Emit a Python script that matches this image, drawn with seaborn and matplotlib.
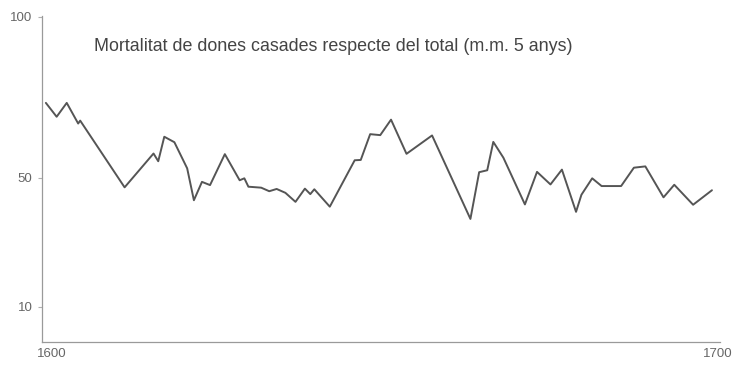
import pandas as pd
import matplotlib
matplotlib.use('Agg')
import matplotlib.pyplot as plt
import matplotlib.transforms as mtransforms
import seaborn as sns

# Values (year, % of deaths that are married women, 5-yr moving avg)
years = [1600.1, 1601.7, 1603.2, 1604.9, 1605.2, 1611.8, 1616.1, 1616.8, 1617.7, 1619.2,
         1621.1, 1622.1, 1623.3, 1624.5, 1626.7, 1628.9, 1629.6, 1630.2, 1632.1, 1633.3,
         1634.4, 1635.7, 1637.2, 1638.6, 1639.4, 1640.0, 1642.3, 1646.0, 1646.9, 1648.3,
         1649.8, 1651.4, 1653.7, 1657.5, 1663.2, 1664.5, 1665.7, 1666.6, 1668.1, 1671.3,
         1673.1, 1675.1, 1676.8, 1678.9, 1679.7, 1681.3, 1682.7, 1685.6, 1687.5, 1689.2,
         1691.9, 1693.5, 1696.3, 1699.1]
values = [73.3, 69.0, 73.3, 66.9, 67.8, 47.1, 57.6, 55.2, 62.8, 61.1,
          53.0, 43.1, 48.8, 47.8, 57.4, 49.3, 49.9, 47.3, 47.0, 45.9,
          46.6, 45.4, 42.6, 46.7, 45.0, 46.5, 41.1, 55.5, 55.6, 63.6,
          63.3, 68.1, 57.5, 63.2, 37.3, 51.8, 52.4, 61.2, 56.3, 41.8,
          51.9, 48.0, 52.6, 39.5, 44.8, 49.9, 47.5, 47.5, 53.2, 53.6,
          44.0, 47.9, 41.7, 46.2]
ytick_vals = [10, 50, 100]
xtick_vals = [1600, 1700]
title = 'Mortalitat de dones casades respecte del total (m.m. 5 anys)'

df = pd.DataFrame({'year': years, 'value': values})

sns.set_style('ticks')
plt.rcParams['font.family'] = ['Liberation Sans', 'DejaVu Sans']

fig = plt.figure(figsize=(7.4, 3.69), dpi=100)
ax = fig.add_axes([0.057, 0.073, 0.916, 0.884])

sns.lineplot(x='year', y='value', data=df, color='#555555', linewidth=1.4, ax=ax)

ax.set_xlim(1599.55, 1700.3)
ax.set_ylim(-0.9, 100.3)
ax.set_xticks(xtick_vals)
ax.set_yticks(ytick_vals)
ax.set_xlabel('')
ax.set_ylabel('')

sns.despine(ax=ax)
for side in ['left', 'bottom']:
    ax.spines[side].set_color('#9a9a9a')
    ax.spines[side].set_linewidth(0.9)
ax.tick_params(axis='y', length=3, width=0.8, color='#b0b0b0', labelsize=9.5, labelcolor='#666666', pad=4)
ax.tick_params(axis='x', length=0, labelsize=9.5, labelcolor='#666666', pad=4)

# the 1600 label sits a bit right of the corner in the original
first = ax.get_xticklabels()[0]
first.set_transform(first.get_transform() + mtransforms.ScaledTranslation(7 / 100, 0, fig.dpi_scale_trans))

ax.text(0.429, 0.905, title, transform=ax.transAxes, ha='center', va='center',
        fontsize=12.9, color='#444444')

fig.savefig('out.png', dpi=100)
